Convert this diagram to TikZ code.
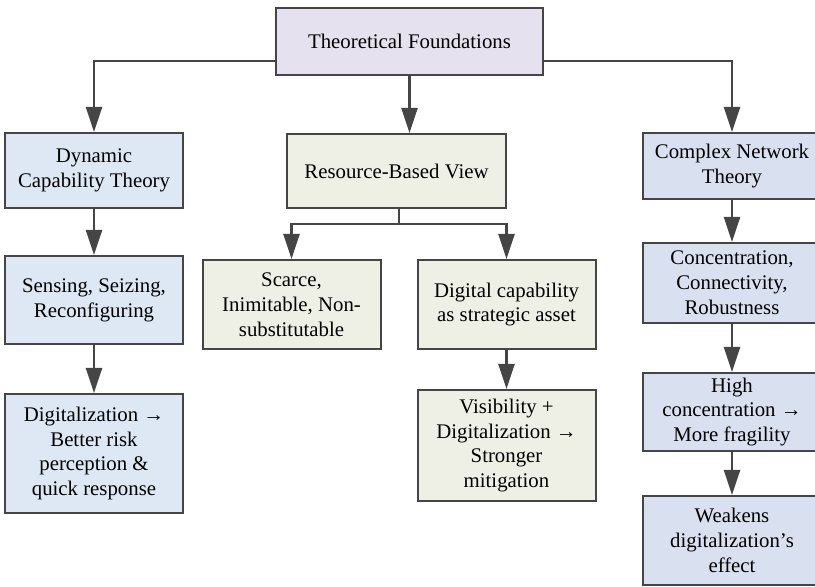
\documentclass[tikz,border=0pt]{standalone}
\usepackage{fontspec}
\setmainfont{Liberation Serif}
\usepackage{tikz}
\usetikzlibrary{arrows.meta,positioning}
\definecolor{topfill}{HTML}{E5E1EF}
\definecolor{dctfill}{HTML}{DDE8F4}
\definecolor{rbvfill}{HTML}{EEF0E5}
\definecolor{cntfill}{HTML}{D9E0EF}
\definecolor{edge}{HTML}{454545}
\begin{document}
\begin{tikzpicture}[x=.5pt,y=-.5pt,
		every node/.style={font=\fontsize{10.4}{12.4}\selectfont},
		box/.style={draw=edge,line width=1pt,align=center,minimum width=89pt,inner sep=2pt},
		arr/.style={draw=edge,line width=1.2pt,-{Triangle[length=12.5pt,width=8pt]}}]
			\useasboundingbox (0,0) rectangle (815,587);
			\clip (0,0) rectangle (815,587);
			\node[box,fill=topfill,minimum width=133.5pt,minimum height=33.5pt] (top) at (409.5,41.5) {Theoretical Foundations};
			% left column
			\node[box,fill=dctfill,minimum height=37.5pt] (dct) at (94,170.5) {Dynamic\\Capability Theory};
			\node[box,fill=dctfill,minimum height=44pt] (ssr) at (94,300) {Sensing, Seizing,\\Reconfiguring};
			\node[box,fill=dctfill,minimum height=59.5pt] (dig) at (94,453.5) {Digitalization →\\Better risk\\perception \&\\quick response};
			% middle column
			\node[box,fill=rbvfill,minimum width=109.5pt,minimum height=37pt] (rbv) at (396.5,171) {Resource-Based View};
			\node[box,fill=rbvfill,minimum height=44.5pt] (sin) at (291.5,304.5) {Scarce,\\Inimitable, Non-\\substitutable};
			\node[box,fill=rbvfill,minimum height=44.5pt] (dca) at (506.5,304.5) {Digital capability\\as strategic asset};
			\node[box,fill=rbvfill,minimum height=55.5pt] (vis) at (506.5,445.5) {Visibility +\\Digitalization →\\Stronger\\mitigation};
			% right column
			\node[box,fill=cntfill,minimum height=33pt] (cnt) at (732,166) {Complex Network\\Theory};
			\node[box,fill=cntfill,minimum height=40pt] (ccr) at (732,283) {Concentration,\\Connectivity,\\Robustness};
			\node[box,fill=cntfill,minimum height=39pt] (hcm) at (732,412) {High\\concentration →\\More fragility};
			\node[box,fill=cntfill,minimum height=44.5pt] (wde) at (732,540.5) {Weakens\\digitalization’s\\effect};
			% connectors
			\draw[arr] ([yshift=-9.75pt]top.west) -| (dct.north);
			\draw[arr] ([yshift=-9.75pt]top.east) -| (cnt.north);
			\draw[arr] (top.south) -- (top.south |- rbv.north);
			\draw[arr] ([xshift=1.25pt]rbv.south) -- ++(0,15) -| (sin.north);
			\draw[arr] ([xshift=1.25pt]rbv.south) -- ++(0,15) -| (dca.north);
			\draw[arr] (dct) -- (ssr);
			\draw[arr] (ssr) -- (dig);
			\draw[arr] (dca) -- (vis);
			\draw[arr] (cnt) -- (ccr);
			\draw[arr] (ccr) -- (hcm);
			\draw[arr] (hcm) -- (wde);
		\end{tikzpicture}
\end{document}
